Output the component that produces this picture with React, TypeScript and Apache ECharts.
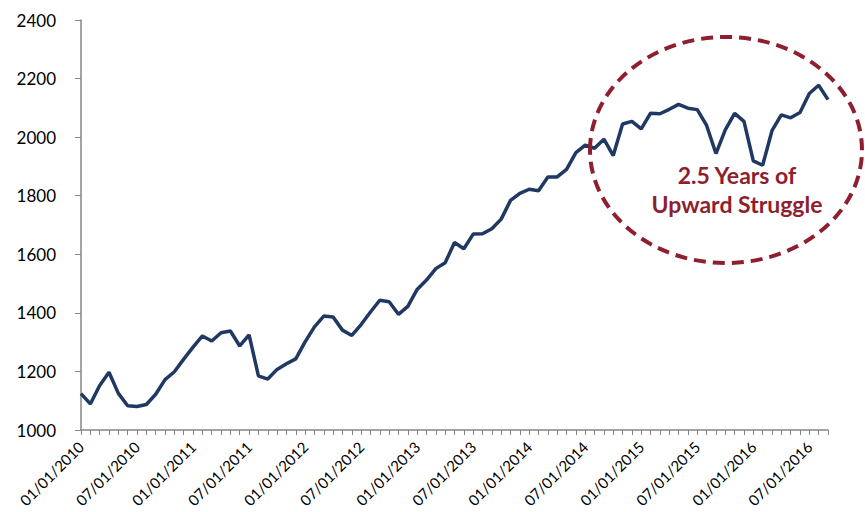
import React, { useEffect, useRef } from "react";
import * as echarts from "echarts";

const startYear = 2010;
const v2010 = [1124, 1089, 1152, 1197, 1125, 1083, 1080, 1087, 1122, 1172, 1199, 1242];
const v2011 = [1283, 1321, 1304, 1332, 1338, 1287, 1325, 1185, 1174, 1207, 1226, 1243];
const v2012 = [1301, 1352, 1389, 1386, 1341, 1323, 1360, 1403, 1443, 1438, 1395, 1422];
const v2013 = [1480, 1512, 1551, 1571, 1640, 1619, 1669, 1670, 1687, 1720, 1784, 1808];
const v2014 = [1822, 1817, 1864, 1864, 1890, 1947, 1973, 1962, 1993, 1937, 2045, 2054];
const v2015 = [2028, 2082, 2080, 2095, 2112, 2099, 2094, 2040, 1944, 2025, 2081, 2054];
const v2016 = [1919, 1904, 2022, 2076, 2066, 2084, 2149, 2177, 2128];

const yTicks = [1000, 1200, 1400, 1600, 1800, 2000, 2200, 2400];
const annotationLines = ["2.5 Years of", "Upward Struggle"];

const values = [...v2010, ...v2011, ...v2012, ...v2013, ...v2014, ...v2015, ...v2016];
const categories = values.map((_, i) => {
  const m = (i % 12) + 1;
  const y = startYear + Math.floor(i / 12);
  return `${m < 10 ? "0" + m : m}/01/${y}`;
});

const NAVY = "#1F3864";
const RED = "#8E1F2F";
const AXIS = "#868686";
const FONT = "Lato, 'Open Sans', sans-serif";

export default function App() {
  const ref = useRef<HTMLDivElement>(null);
  useEffect(() => {
    if (!ref.current) return;
    const chart = echarts.init(ref.current, null, { renderer: "svg" });
    chart.setOption({
      animation: false,
      backgroundColor: "#ffffff",
      grid: { left: 81, right: 37, top: 20, bottom: 82, containLabel: false },
      xAxis: {
        type: "category",
        data: categories,
        boundaryGap: false,
        axisLine: { lineStyle: { color: AXIS, width: 1.5 } },
        axisTick: { show: true, interval: 0, length: 5, lineStyle: { color: AXIS } },
        axisLabel: {
          interval: 5,
          rotate: 45,
          fontSize: 15,
          fontFamily: FONT,
          color: "#000000",
          margin: 14,
        },
        splitLine: { show: false },
      },
      yAxis: {
        type: "value",
        min: yTicks[0],
        max: yTicks[yTicks.length - 1],
        interval: 200,
        axisLine: { show: true, lineStyle: { color: AXIS, width: 1.5 } },
        axisTick: { show: true, length: 6, lineStyle: { color: AXIS } },
        axisLabel: {
          fontSize: 17,
          fontFamily: FONT,
          color: "#000000",
          margin: 25,
          formatter: (v: number) => String(v),
        },
        splitLine: { show: false },
      },
      series: [
        {
          type: "line",
          data: values,
          symbol: "none",
          lineStyle: { color: NAVY, width: 3.5 },
        },
      ],
      graphic: [
        {
          type: "ellipse",
          shape: { cx: 726, cy: 150, rx: 136, ry: 113 },
          style: { fill: "none", stroke: RED, lineWidth: 4, lineDash: [12, 7] },
          z: 10,
        },
        {
          type: "text",
          x: 737,
          y: 189,
          style: {
            text: annotationLines.join("\n"),
            fill: RED,
            font: `bold 23px ${FONT}`,
            align: "center",
            verticalAlign: "middle",
            lineHeight: 29,
          },
          z: 11,
        },
      ],
    });
    return () => chart.dispose();
  }, []);
  return (
    <div
      ref={ref}
      style={{ position: "fixed", left: 0, top: 0, width: 865, height: 512 }}
    />
  );
}
